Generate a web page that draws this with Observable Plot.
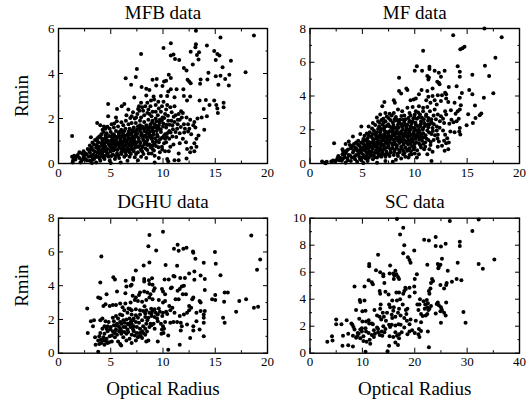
<!DOCTYPE html>
<html><head><meta charset="utf-8">
<script src="https://cdn.jsdelivr.net/npm/d3@7"></script>
<script src="https://cdn.jsdelivr.net/npm/@observablehq/plot@0.6"></script>
<style>
html,body{margin:0;padding:0;background:#fff;overflow:hidden}
#root{position:relative;width:530px;height:402px}
#root svg{position:absolute;background:transparent;max-width:none}
</style></head><body><div id="root"></div>
<script>
const serif = "'Liberation Serif','Times New Roman',serif";

const mfbPoints = [[18.7,5.69],[13.15,5.9],[15.5,5.6],[10.75,5.35],[10.05,5.13],[13.15,5.3],[13.1,5.17],[12.65,4.97],[13.45,4.95],[13.25,4.82],[14.2,5.24],[14.9,5],[15.2,4.87],[15.4,4.8],[15.05,4.6],[16.5,4.57],[15.7,4.28],[7.9,4.87],[10.75,4.8],[11,4.84],[11.15,4.65],[11.55,4.6],[13.4,4.62],[12.85,4.4],[17.9,4.06],[14.35,4.03],[12,4.24],[12.25,4.13],[7.5,4.2],[10.55,3.95],[10.75,3.8],[6.43,3.79],[7.4,3.84],[15.05,3.88],[15.5,3.9],[15.95,3.76],[16.35,3.94],[16.3,3.47],[15.3,3.5],[13.55,3.54],[13.6,3.73],[14.25,3.73],[12.35,3.72],[12.5,3.64],[12.65,3.57],[9,3.72],[9.4,3.76],[9.35,3.47],[6.95,3.5],[7.95,3.4],[8.4,3.32],[8.7,3.27],[10.1,3.64],[9.95,3.45],[10.3,3.68],[10.75,3.3],[10.5,3.2],[11.3,3.3],[11.95,3.3],[12.6,2.98],[12,3],[12.3,2.8],[11.1,2.95],[10.4,3],[9.8,3],[9.1,2.98],[8.4,3.02],[7.25,2.93],[6.3,2.65],[6.05,2.55],[5.6,2.42],[4.75,2.65],[4.75,2.1],[5.5,2.05],[6.5,2.15],[7,2.1],[7.3,2],[13.5,2.8],[14.1,2.82],[14.9,2.8],[15.1,2.6],[15.2,2.45],[15.25,2.25],[15.8,2.7],[15.8,2.5],[14.45,2.6],[13.9,2.42],[14.2,2.1],[13.7,2.05],[13.3,2],[13.95,1.5],[13.4,1.25],[13.2,1.1],[13,0.9],[13.2,0.75],[12.7,0.7],[12.6,0.5],[13,0.55],[12.3,0.65],[11.6,0.9],[11.9,1.1],[12.2,0.95],[12.7,1.3],[12.4,1.42],[12.1,1.55],[11.7,1.62],[11.4,1.75],[10.9,1.7],[11.35,1.55],[10.9,1.2],[10.6,1.1],[11,0.85],[10.3,0.95],[10.2,0.55],[9.7,0.5],[9.2,0.35],[9.6,0.25],[9.2,0.05],[10.4,0.2],[10.5,0.1],[11.1,0.15],[11.5,0.15],[11.5,0.45],[12.25,0.22],[10.55,0.55],[10.8,1.9],[11.2,2.15],[11.5,2.2],[11.9,2.25],[12.25,2.05],[12.6,1.95],[13,1.85],[12.9,1.7],[13.1,1.6],[11.1,2.55],[10.7,2.5],[10.05,2.75],[10.4,2.6],[9.9,2.55],[9.6,2.45],[9.3,2.6],[9,2.3],[8.8,2.55],[8.5,2.7],[8.6,2.4],[8.3,2.55],[8,2.5],[7.75,2.35],[7.7,2.55],[7.55,2.2],[8.2,2.15],[8.9,2.1],[9.5,2.15],[9.95,2.05],[10.2,2.2],[10.5,1.9],[11.8,2.05],[9.15,2.85],[8.85,2.8],[9.55,2.75],[9.3,2],[9.7,1.95],[9,1.9],[8.6,1.95],[8.2,1.85],[7.8,1.9],[7.4,1.8],[7,1.8],[6.7,1.75],[6.2,1.7],[5.7,1.65],[5.3,1.6],[4.9,1.55],[4.5,1.55],[4.3,1.4],[3.9,1.2],[3.1,1.17],[1.3,1.22],[3.7,1.8],[4,1.7],[4.6,1.35],[5,1.4],[5.5,1.45],[6,1.5],[6.4,1.55],[6.8,1.55],[7.2,1.6],[7.6,1.65],[8,1.65],[8.4,1.7],[8.8,1.75],[9.2,1.75],[9.6,1.7],[10,1.65],[10.3,1.6],[10.6,1.45],[10.2,1.3],[9.8,1.4],[9.4,1.45],[9,1.5],[8.6,1.5],[8.2,1.45],[7.8,1.45],[7.4,1.4],[7,1.35],[6.6,1.3],[6.2,1.3],[5.8,1.25],[5.4,1.2],[5,1.2],[4.6,1.15],[4.2,1],[3.8,0.95],[3.4,0.85],[3,0.8],[2.8,0.65],[2.4,0.55],[2,0.5],[1.5,0.35],[1.3,0.3],[1.4,0.15],[1.35,0.05],[1.7,0.3],[2,0.25],[2.2,0.12],[2.4,0.3],[2.7,0.4],[3,0.5],[3.3,0.6],[3.6,0.7],[3.9,0.75],[4.2,0.8],[4.5,0.95],[4.8,1],[5.1,1.05],[5.5,1.05],[5.9,1.1],[6.3,1.1],[6.7,1.15],[7.1,1.2],[7.5,1.2],[7.9,1.25],[8.3,1.25],[8.7,1.3],[9.1,1.3],[9.5,1.2],[9.9,1.15],[8.9,1.1],[8.5,1.05],[8.1,1.05],[7.7,1],[7.3,1],[6.9,0.95],[6.5,0.9],[6.1,0.9],[5.7,0.85],[5.3,0.85],[4.9,0.8],[4.5,0.75],[4.1,0.6],[3.7,0.5],[3.3,0.4],[2.9,0.3],[2.6,0.2],[3,0.12],[3.4,0.2],[3.8,0.3],[4.2,0.4],[4.6,0.5],[5,0.6],[5.4,0.65],[5.8,0.7],[6.2,0.7],[6.6,0.7],[7,0.75],[7.4,0.8],[7.8,0.8],[8.2,0.85],[8.7,0.85],[9.2,0.9],[9.6,0.95],[9,0.65],[8.5,0.6],[8,0.55],[7.6,0.5],[7.2,0.55],[6.8,0.5],[6.4,0.5],[6,0.5],[5.6,0.45],[5.2,0.4],[4.8,0.3],[4.4,0.2],[4,0.12],[3.6,0.05],[4.9,0.12],[5.4,0.2],[5.8,0.25],[6.3,0.3],[6.8,0.3],[7.3,0.28],[7.9,0.3],[8.4,0.25],[5,0.02],[5.95,0.05],[3.2,0.02],[2.1,0.05],[6.6,0.12],[7.6,0.15],[8.9,0.45],[9.9,0.75],[10.1,0.9],[10.7,0.75],[4.5,1.25],[3.5,1.05],[3.7,1],[4.1,1.3],[4.4,1.1],[4.7,0.65],[5.2,0.7],[5.5,0.9],[5.1,0.95],[5.3,1.3],[5.8,1.4],[6.1,1.2],[6.3,1.45],[5.9,0.95],[6.6,1.05],[6.9,1.1],[7.2,1.45],[7.5,1.5],[7.8,1.7],[8.1,1.6],[8.4,1.4],[8.7,1.6],[9,1.6],[9.3,1.6],[9.6,1.55],[8.1,1.25],[7.1,0.85],[6.8,0.8],[6.4,0.8],[6,0.65],[3.1,0.65],[3.2,0.3],[2.6,0.45],[3.6,0.35],[3.9,0.45],[4.3,0.55],[4.5,0.35],[4.1,0.9],[5.6,1.15],[5.2,1.1],[7.9,2.05],[8.5,2.25],[9.3,2.3],[9.8,2.3],[10.3,2.4],[8.1,2.35],[7.9,2.7],[8.7,2.2],[11.1,1.85],[11.6,1.95],[12.4,1.75],[12,1.75],[11.6,1.35],[11.2,1.4],[10.4,1.35],[10.2,1.1],[9.4,1],[9,0.8],[8.4,0.95]];
const mfbCore = [[3.25,0.93],[3.48,0.52],[3.72,1.12],[3.83,0.62],[4.03,0.48],[4.08,1.13],[4.27,0.68],[4.33,0.27],[4.38,0.88],[4.55,0.62],[4.62,1.02],[4.73,0.42],[4.78,0.87],[4.83,1.22],[4.97,0.53],[5.03,0.72],[5.07,0.33],[5.13,0.88],[5.18,1.28],[5.27,0.58],[5.32,0.98],[5.43,0.77],[5.47,0.32],[5.52,1.18],[5.62,0.6],[5.68,0.95],[5.72,0.38],[5.78,1.33],[5.83,0.78],[5.97,1.02],[6.03,0.42],[6.08,0.82],[6.13,1.38],[6.17,0.58],[6.27,0.98],[6.33,0.62],[6.42,1.22],[6.47,0.38],[6.53,1.02],[6.58,0.58],[6.63,0.88],[6.72,1.42],[6.77,0.62],[6.83,1.28],[6.92,0.42],[6.97,1.03],[7.03,1.48],[7.08,0.62],[7.17,0.93],[7.22,1.12],[7.33,0.7],[7.37,1.28],[7.42,0.42],[7.48,0.92],[7.53,1.33],[7.63,0.73],[7.68,1.12],[7.72,1.57],[7.83,0.92],[7.88,0.62],[7.93,1.33],[7.97,1.58],[8.03,0.73],[8.08,1.15],[8.13,0.42],[8.23,0.97],[8.28,1.53],[8.33,0.67],[8.38,1.18],[8.47,1.62],[8.53,0.82],[8.58,1.32],[8.63,0.45],[8.68,1.18],[8.78,1.42],[8.83,0.72],[8.93,1.22],[8.97,1.85],[9.03,0.97],[9.08,1.42],[9.13,0.58],[9.22,1.12],[9.28,1.68],[9.33,0.78],[9.38,1.88],[9.43,1.28],[9.53,1.58],[9.57,0.72],[9.68,1.82],[9.72,1.08],[9.78,1.52],[9.88,1.92],[9.93,0.62],[10.03,1.78],[10.08,1.22],[10.12,2.02],[10.33,1.72],[10.38,1.18],[10.47,2.12],[10.62,1.72],[10.73,1.38],[10.83,2.28],[10.95,1.52],[11.02,2.08],[11.27,1.18],[11.42,1.95],[11.73,2.32],[12.03,1.38],[12.52,1.55],[2.32,0.18],[2.52,0.38],[2.72,0.13],[2.93,0.58],[3.05,0.33],[3.18,0.72],[3.27,0.17],[3.53,0.28],[3.67,0.82],[3.93,0.22],[4.13,0.33],[1.45,0.25],[1.62,0.18],[1.85,0.38],[2.25,0.45],[4.22,1.5],[4.68,1.63],[5.08,1.75],[5.58,1.88],[6.02,1.83],[6.45,1.9],[6.87,2.02],[7.13,2.28],[7.62,2.42],[7.43,2.05],[6.68,2.4],[5.33,1.78],[4.35,1.65]];

const mfPoints = [[16.65,8],[13.67,7.6],[18.3,7.48],[10.8,6.68],[14.75,6.92],[14.55,6.83],[14.35,6.77],[17.7,6.27],[16.7,5.8],[14.1,5.77],[17.1,5.18],[15.5,5.26],[14.3,5.44],[14.3,5.14],[10.2,5.77],[10,5.5],[10.7,5.5],[11.4,5.73],[11.4,5.6],[11.9,5.5],[12.3,5.38],[12.85,5.5],[12.5,5.14],[8.5,5.08],[11.2,5.18],[11.35,5.1],[11.3,4.98],[12.15,4.84],[12.3,4.78],[12.37,4.7],[13.25,4.54],[14,4.58],[8.5,4.3],[8.7,4.15],[9.2,4.45],[9.3,4.35],[10.65,4.35],[11.2,4.3],[11.7,4.45],[16.6,3.9],[17.5,4.17],[15.2,4.35],[15.5,4.1],[14.5,4.18],[15.75,3.43],[16.35,2.96],[16.2,2.86],[15.8,2.7],[15.55,2.4],[15.1,2.92],[14.95,2.26],[12.9,4.2],[13,4.1],[12.2,4.05],[12.6,4.05],[11.7,4],[11.3,3.95],[10.4,4.1],[9.9,3.8],[10.1,3.85],[9.6,3.75],[8,3.75],[8.1,3.6],[7.1,3.65],[6.9,3.4],[11.1,3.75],[11.5,3.6],[11.9,3.75],[12.1,3.5],[12.5,3.7],[13,3.85],[13.2,3.65],[13.8,3.6],[14.3,3.9],[14.4,3.45],[14.3,3.2],[14.1,3.1],[13.9,2.95],[13.45,3.15],[12.9,3.1],[13,2.9],[13.5,2.6],[14.2,2.65],[14,2.5],[13.7,2.45],[14.3,2.1],[14.25,1.9],[14.35,1.72],[13.8,1.85],[13.4,1.9],[13.1,1.5],[13,1.2],[13.25,1.25],[13.2,0.85],[12.85,0.75],[12.6,1.05],[12.2,1],[12.3,1.3],[12.8,1.35],[11.7,0.7],[11.2,0.55],[11.6,0.15],[10.9,0.85],[10.4,0.55],[10,0.6],[9.7,0.55],[9.4,0.35],[9.1,0.4],[8.9,0.55],[9.5,0.5],[11.5,1.1],[11,1.25],[11.8,1.4],[12.2,1.7],[12.7,1.95],[12.1,2.2],[12.4,2.5],[12.8,2.4],[11.6,2.45],[11.2,2.3],[10.8,2.1],[11.3,2.7],[11.8,2.85],[11.45,3.1],[11.9,3.2],[11.2,3.35],[10.8,3.1],[10.4,3.4],[9.8,3.35],[10.5,2.9],[10,2.9],[9.5,3],[9,2.85],[8.8,3.1],[8.4,3.2],[8,3],[7.6,2.95],[7.2,3],[6.7,2.9],[6.5,2.5],[6,2.4],[5.6,2.2],[4.9,2.2],[4.1,1.6],[2.3,1.2],[3.4,1.15],[3.1,0.85],[3.7,1.3],[4.4,1.25],[4.8,1.75],[5.3,1.35],[5.7,1.85],[6.1,1.95],[6.5,2.05],[6.9,2.3],[7.2,2.5],[7.5,2.7],[7.9,2.45],[8.2,2.75],[8.6,2.6],[9,2.45],[9.4,2.7],[9.8,2.5],[10.2,2.65],[10.6,2.5],[8,2.1],[8.4,2.3],[8.8,2.2],[9.2,2.15],[9.6,2.2],[10,2.1],[10.4,2],[10.8,1.8],[11.2,1.95],[11.6,1.75],[9.9,1.8],[9.5,1.9],[9.1,1.85],[8.7,1.9],[8.3,1.95],[7.9,1.8],[7.5,1.85],[7.1,1.95],[6.7,1.7],[6.3,1.65],[5.9,1.55],[5.5,1.5],[5.1,1.45],[4.7,1.05],[4.3,0.95],[3.9,0.9],[3.5,0.75],[3.1,0.55],[2.7,0.45],[2.5,0.2],[2.2,0.18],[1.6,0.1],[1.4,0.05],[1.15,0.12],[1.5,0.02],[2.8,0.2],[3.3,0.35],[3.7,0.5],[4.1,0.65],[4.5,0.75],[4.9,0.95],[5.3,1.05],[5.7,1.15],[6.1,1.3],[6.5,1.4],[6.9,1.5],[7.3,1.6],[7.7,1.6],[8.1,1.65],[8.5,1.6],[8.9,1.6],[9.3,1.55],[9.7,1.5],[10.1,1.5],[10.5,1.6],[10.9,1.55],[11.3,1.4],[10.4,1.2],[10,1.15],[9.6,1.2],[9.2,1.25],[8.8,1.3],[8.4,1.35],[8,1.4],[7.6,1.35],[7.2,1.3],[6.8,1.2],[6.4,1.1],[6,1],[5.6,0.9],[5.2,0.8],[4.8,0.7],[4.4,0.5],[4,0.35],[3.6,0.2],[3.4,0.05],[3.9,0.15],[4.3,0.25],[4.7,0.4],[5.1,0.5],[5.5,0.6],[5.9,0.7],[6.3,0.8],[6.7,0.9],[7.1,1],[7.5,1.05],[7.9,1.1],[8.3,1.05],[8.7,1],[9.1,0.95],[9.5,0.9],[9.9,0.85],[8.9,0.75],[8.5,0.8],[8.1,0.8],[7.7,0.8],[7.3,0.7],[6.9,0.65],[6.5,0.6],[6.1,0.5],[5.7,0.4],[5.3,0.3],[4.9,0.2],[4.5,0.1],[5.5,0.15],[6,0.25],[6.4,0.35],[6.8,0.4],[7.2,0.4],[7.6,0.45],[8,0.5],[8.4,0.45],[8.7,0.3],[7.2,0.15],[6.4,0.05],[5.1,0.03],[7.9,0.1],[8.2,0.22],[9.3,0.75],[10.6,0.95],[11,1],[11.4,0.85],[10.2,0.35],[6.2,1.15],[6.6,1.25],[7,1.4],[7.4,1.45],[7.8,1.5],[8.2,1.5],[8.6,1.45],[9,1.4],[9.4,1.4],[9.8,1.3],[7.4,1.15],[7,0.85],[6.6,0.75],[6.2,0.65],[5.8,0.55],[5.4,0.45],[5,0.35],[5.6,1.05],[5.2,0.95],[4.8,0.85],[5.9,1.25],[5.5,1.2],[5.1,1.15],[6.3,1.5],[6.7,1.55],[7.1,1.75],[7.5,1.7],[7.9,1.95],[8.3,1.8],[8.7,1.75],[9.1,1.7],[9.5,1.65],[9.9,1.65],[10.3,1.8],[10.7,1.35],[8.5,2.45],[8.9,2.6],[9.3,2.3],[9.7,2.35],[10.1,2.3],[10.5,2.2],[10.9,2.4],[11.3,2.15],[11.7,2.1],[12.1,1.95],[7.6,2.2],[7.2,2.2],[6.8,2.05],[6.4,1.85],[6,1.75],[5.6,1.65],[5.2,1.65],[4.6,1.35],[4.2,1.15],[3.8,1.1],[8.2,2.55],[7.8,2.85],[7,2.65],[6.6,2.2],[9.6,2.85],[10.1,3.1],[10.8,3.3],[11.1,2.9],[12.2,2.9],[12.5,2.8],[12.7,2.65],[13.3,2.35],[9.3,3.3],[12.9,1.7]];
const mfCore = [[3.63,0.83],[3.82,0.47],[4.02,1.03],[4.17,0.78],[4.27,0.42],[4.42,0.87],[4.58,1.12],[4.63,0.58],[4.77,0.27],[4.87,1.23],[4.93,0.62],[5.03,0.82],[5.07,1.33],[5.18,0.43],[5.23,1.07],[5.37,0.68],[5.43,1.42],[5.47,0.88],[5.57,0.33],[5.63,1.27],[5.68,0.72],[5.78,1.02],[5.83,1.62],[5.87,0.48],[5.97,0.88],[6.03,1.42],[6.07,1.13],[6.17,0.37],[6.23,1.02],[6.27,1.78],[6.37,0.67],[6.43,1.27],[6.47,0.93],[6.53,1.62],[6.58,0.48],[6.63,1.18],[6.73,1.88],[6.78,1.03],[6.83,0.57],[6.87,1.38],[6.93,0.78],[6.98,1.67],[7.03,1.12],[7.07,2.12],[7.13,0.52],[7.18,1.52],[7.23,0.92],[7.28,1.87],[7.33,1.22],[7.38,0.57],[7.43,1.62],[7.47,2.32],[7.53,0.93],[7.57,1.28],[7.63,1.92],[7.68,0.63],[7.73,1.47],[7.77,2.13],[7.83,1.18],[7.88,0.92],[7.93,1.67],[7.97,2.28],[8.03,0.67],[8.07,1.28],[8.13,1.82],[8.17,1.13],[8.23,2.12],[8.27,0.93],[8.33,1.52],[8.37,0.58],[8.43,1.78],[8.47,2.12],[8.53,1.22],[8.57,0.68],[8.63,1.82],[8.67,1.38],[8.73,2.32],[8.77,0.87],[8.83,1.52],[8.87,2.02],[8.93,1.13],[8.97,1.73],[9.03,0.62],[9.07,2.28],[9.13,1.32],[9.17,1.97],[9.23,1.62],[9.27,0.82],[9.33,2.02],[9.37,1.12],[9.43,1.78],[9.47,2.48],[9.53,1.32],[9.57,2.02],[9.63,0.72],[9.67,1.72],[9.73,1.03],[9.77,2.12],[9.83,1.42],[9.87,2.68],[9.93,1.93],[9.97,0.97],[10.03,1.67],[10.07,2.42],[10.13,1.28],[10.17,1.97],[10.23,0.78],[10.27,2.22],[10.33,1.62],[10.37,2.72],[10.43,1.42],[10.47,1.87],[10.53,1.08],[10.57,2.32],[10.63,1.72],[10.67,2.72],[10.73,1.52],[10.77,2.02],[10.83,1.17],[10.87,2.62],[10.97,2.22],[11.03,1.68],[11.07,2.82],[11.13,1.47],[11.27,2.53],[11.37,1.83],[11.43,2.33],[11.53,1.28],[11.58,2.62],[11.73,1.92],[11.82,2.32],[11.93,1.68],[12.02,2.62],[12.17,1.48],[12.37,2.12],[2.93,0.33],[3.03,0.17],[3.17,0.72],[3.27,0.48],[3.43,0.62],[3.57,0.33],[2.63,0.32],[2.38,0.14],[2.03,0.12],[3.12,0.27],[5.42,1.78],[5.92,2.08],[6.23,2.28],[6.63,2.42],[7.03,2.42],[7.37,2.23],[7.67,2.58],[8.07,2.62],[8.37,2.58],[8.73,2.82],[9.13,2.62],[9.53,2.52],[9.97,2.72],[10.33,3.02],[6.38,2.72],[7.33,2.78],[6.83,2.58]];

const dghuPoints = [[10,7.2],[8.7,7],[18.45,6.98],[8.6,6.34],[9.35,6.09],[4.1,5.73],[11.4,6.42],[11.05,6.19],[11.5,6.07],[11.95,6.19],[12.25,6.25],[12.87,6.03],[12.9,5.95],[14.97,5.99],[13.1,5.59],[19.3,5.55],[13.9,5.36],[8.7,5.37],[8.15,5.2],[10.25,5.22],[11.35,5.18],[15.05,5.3],[19,4.94],[7.4,4.9],[15.5,4.62],[13,4.84],[12.5,4.72],[11,4.58],[11.1,4.55],[4,4.19],[5.25,4.5],[5.4,4.37],[6.43,4.3],[7.15,4.45],[7.15,4.35],[8.2,4.4],[8.2,4.25],[8.65,4.33],[8.95,4.44],[10.15,4.37],[10.55,4.37],[11.65,4.45],[12.1,4.45],[13,4.35],[13.6,4.6],[14,4.4],[14,3.75],[12,4],[11.8,3.95],[11.6,3.8],[11.4,3.7],[10.75,3.85],[10.85,3.9],[9,4.05],[8.7,4.1],[9.2,3.85],[9.1,3.7],[6.4,3.55],[5.6,3.65],[4.6,3.5],[3.8,3.3],[7,4.05],[6.9,4],[6.5,3.95],[7.8,3.6],[8.2,3.65],[8.5,3.6],[8.8,3.5],[7.4,3.3],[7.1,3.4],[7.7,3.45],[9.9,3.8],[10,3.65],[10.2,3.5],[11.9,3.5],[12.2,3.5],[13.5,3.1],[13.6,3],[12.9,3.3],[12.8,3.2],[11.5,3.2],[11.2,3.2],[9.6,3.15],[10,3],[10.2,3.1],[9,3.2],[8.7,3.3],[8.4,3.15],[8,3.05],[7.6,3.1],[7.3,3.15],[6.9,3],[6.4,2.95],[5.9,2.95],[5.5,2.85],[5.2,2.85],[4.9,2.8],[4.5,2.9],[4.3,2.8],[2.75,2.65],[4,3.25],[4,1.95],[4.2,2.05],[3.1,1.9],[3.4,1.95],[3.3,1.6],[2.8,1.2],[3.5,0.95],[3.8,0.08],[3.55,0.5],[10.5,0.2],[11.6,0.5],[10.5,1.05],[9.5,0.7],[8.6,0.75],[8.4,0.7],[12.6,0.9],[13.9,1],[13.5,1.4],[12.9,1.35],[12.9,1.6],[13.2,1.9],[13.9,1.8],[13.9,2.1],[13.9,2.3],[14,2.5],[13.6,2.5],[13.2,2.4],[12.7,2.7],[12.5,2.55],[12.3,2.4],[12,2.3],[11.6,2.2],[11.7,1.8],[11.8,1.6],[11.7,1.35],[12.3,1.7],[12.5,2.8],[11,1.85],[10.7,1.8],[10.2,1.85],[10,1.6],[9.9,1.4],[10.1,1.45],[10.05,1.2],[9.85,1.15],[10.3,2.45],[10.6,2.8],[10.9,2.7],[11.1,2.4],[15,3.45],[15,3.15],[14.7,3.2],[15.9,3.6],[16.2,3.6],[15.85,3.05],[15.75,2.1],[15.9,1.8],[17.3,3.1],[17.95,3.2],[17,2.45],[18.7,2.7],[19.1,2.75],[9.7,2.45],[9.5,2.3],[9.2,2.6],[9,2.5],[8.7,2.4],[8.4,2.55],[8.1,2.5],[7.8,2.3],[7.4,2.25],[7,2.3],[6.6,2.4],[6.3,2.55],[5.9,2.3],[5.5,2.2],[5.2,2.1],[4.8,1.85],[4.4,1.6],[4.2,1.45],[4,1.2],[3.9,1],[3.8,0.75],[4.1,0.6],[4.4,0.5],[4.7,0.6],[4.6,0.85],[4.3,0.95],[4.05,0.8],[4.4,1.15],[4.7,1.3],[5,1.55],[5.3,1.65],[5.6,1.75],[5.9,1.85],[6.2,1.95],[6.5,2],[6.8,2.05],[7.1,1.95],[7.4,1.85],[7.7,1.8],[8,1.95],[8.3,2.15],[8.6,2.1],[8.9,2.2],[9.2,2.15],[9.5,1.9],[9.1,1.75],[8.7,1.55],[8.3,1.45],[8,1.3],[8.3,1.1],[8,0.9],[7.7,1],[7.5,1.2],[7.2,1.3],[7,1.1],[6.8,0.85],[7,0.6],[7.4,0.75],[6.5,0.75],[6.2,0.95],[6,1.15],[5.8,1.3],[5.5,1.4],[5.2,1.3],[5.1,1.05],[5.4,0.95],[5.1,0.7],[5.7,0.7],[5.9,0.55],[6,0.45],[6.3,1.25],[6.6,1.4],[6.9,1.55],[7.2,1.6],[7.5,1.55],[7.8,1.45],[8.1,1.6],[8.4,1.75],[5.6,1.1],[5.9,1.45],[6.4,1.55],[6.7,1.7],[7,1.75],[7.3,1.05],[7.6,0.95],[7.8,1.2],[8.1,1.2],[6.5,1.15],[6.2,1.55],[6,1.75],[5.4,1.25],[4.9,1],[4.6,1.45],[4.3,0.75],[3.9,0.55],[7.6,2.1],[7.2,2.05],[6.9,1.85],[6.6,1.75],[6.3,1.8],[7.8,2.55],[7.4,2.6],[7,2.55],[6.7,2.65],[6.1,2.25],[5.7,2.05],[5.3,1.9],[4.5,1.9],[4.7,1.6],[8.3,2.35],[8.9,2.35],[9.3,2.4],[9.6,2.65],[10,2.4],[9.8,1.75],[8.8,1.75],[8.5,1.95],[9.2,1.45],[8.9,1.65],[6.13,2.72],[6.83,2.62],[8.23,2.78],[8.87,2.63],[9.43,2.05],[9.93,2.2],[10.4,2.32],[10.7,2.55],[11.35,1.85],[5.33,1.2],[6.03,1.32],[5.47,1.62],[7.13,1.42],[7.87,1.02],[8.47,1.28],[6.67,1.25],[4.53,0.72],[4.93,1.42],[5.78,1.58],[4.85,0.65]];

const scPoints = [[16.6,9.95],[17.8,9.3],[17.2,8.8],[26.7,9.8],[32.2,9.9],[31,9.05],[24,8.6],[21.8,8.4],[22.7,8.35],[25.9,8.1],[24,7.95],[25,7.9],[28.6,8.25],[28.6,7.95],[18,8],[17.8,7.4],[19.9,7.6],[13,7.3],[18.7,7.1],[19,6.9],[19.2,6.7],[28.2,6.7],[35.2,6.95],[32.2,6.6],[33,6.25],[25.2,7],[24.4,6.6],[24.9,6.55],[24.6,6.4],[24.5,6.3],[22.4,6.55],[11.3,6.6],[11.3,6.45],[15.3,6.5],[12.6,6.15],[13.4,6],[14,5.85],[14,5.7],[26.3,6.1],[16.3,6.1],[15.2,5.9],[15.9,5.9],[16.5,5.85],[16.1,5.75],[16,5.5],[16.8,5.65],[17,5.5],[20.4,5.85],[20,5.5],[11.2,5.4],[11.8,5.25],[12,5.1],[8.5,4.95],[10.4,4.95],[14.2,5.2],[23.3,5.5],[23.5,5.35],[23.1,5.2],[24.9,5.05],[25.6,4.8],[26,5.05],[26.1,5.2],[27.1,5.3],[28,5.5],[28.9,5.4],[23,4.8],[22.7,4.6],[22.8,4.4],[18.2,4.85],[18.3,4.75],[19,4.85],[19.9,4.95],[13.3,4.6],[13.4,4.4],[14.4,4.55],[15,4.35],[16.5,4.5],[17,4.5],[17.8,4.4],[18,4.6],[19,4.2],[20,4.5],[21,4],[21.7,3.85],[22.3,3.95],[22.5,3.7],[22,3.6],[22.4,3.4],[22.8,3.3],[22.4,2.9],[21.5,2.75],[20.7,3.2],[20.5,3.6],[24.4,3.75],[24.6,3.55],[25,3.4],[25.2,3.2],[25.6,3],[25.9,2.8],[26,3.75],[24,2.95],[25,2.25],[29.3,3.05],[29.7,2.25],[22.7,0.45],[22.5,1.6],[21.2,1.65],[20.8,1.8],[20.7,1.4],[20.9,1.2],[20,1.5],[19,1.6],[18.6,1.4],[17.5,1.55],[17,1.1],[16.8,0.6],[16.3,0.8],[15.1,0.55],[14.8,0.15],[10.6,0.1],[11.5,0.7],[6.2,0.55],[7.3,0.58],[8.2,0.5],[3.3,0.85],[4.2,1.25],[4.3,0.95],[5,2.5],[5,2.15],[6,2.15],[7,2.45],[6.3,1.3],[7.3,1.45],[8.2,1.3],[7.9,2.2],[8.1,2.1],[8.3,1.95],[8.5,1.75],[8.8,3.2],[9.5,3.95],[9.6,3.8],[10.4,3.9],[10,3.1],[10.6,3.15],[9.4,2.55],[10,2.35],[10.7,2.35],[11.2,2.45],[11.8,2.2],[12.3,3.2],[12.8,2.8],[13.4,3.3],[13.5,3.6],[13.9,3],[13.3,2.7],[13.6,2.5],[14.1,2.7],[14.5,2.4],[15.1,2.1],[15.3,1.95],[15.7,3.9],[15.1,3.6],[15.3,3.4],[15.9,3.15],[16,3.4],[16.6,3.9],[17.2,4],[17.7,3.6],[17,3.3],[16.8,3],[16.3,2.7],[15.6,2.85],[15.7,2.6],[17.3,2.8],[18.3,3.2],[18.4,2.9],[18,2.6],[18.5,2.4],[19.2,2.5],[19,2.15],[20.2,2.4],[21.2,2.3],[18,1.9],[17.3,2.1],[16.3,2.05],[15.9,1.2],[15.2,1.25],[16.6,1.3],[17,1.4],[16.3,1.55],[14.2,1.55],[13.7,1.6],[13.3,1.35],[13,1.55],[12.4,1.45],[12.2,1.7],[11.8,1.35],[11.2,1.5],[10.7,1.6],[10.2,1.25],[9.9,1.6],[9.3,1.45],[9,1.25],[9.6,1.1],[10.2,0.9],[10.8,0.85],[11.4,1],[12.2,1.2],[13,1.8],[13.8,1.3],[14,2],[12.8,1.9],[12,2.15],[11.3,2.2],[10.6,1.85],[9.9,1.85],[9.6,1.75],[8.8,1.15],[9.1,1.5],[15.6,2.1],[14.7,3],[14.4,1.8],[16.9,2.15],[19.5,1.7],[18.6,3.3],[21.2,2.9],[23.1,3.5],[22.6,3.2],[20.9,3.6],[21.9,3.3],[22.1,2.8],[24.2,3.65],[24.9,3.1]];

const panels = [
  {name:"MFB data", pts:mfbPoints.concat(mfbCore), yTop:6, xTop:20, col:0, row:0},
  {name:"MF data", pts:mfPoints.concat(mfCore), yTop:8, xTop:20, col:1, row:0},
  {name:"DGHU data", pts:dghuPoints, yTop:8, xTop:20, col:0, row:1},
  {name:"SC data", pts:scPoints, yTop:10, xTop:40, col:1, row:1}
];
const xMajor20 = [0,5,10,15,20], xMinor20 = [2.5,7.5,12.5,17.5];
const xMajor40 = [0,10,20,30,40], xMinor40 = [5,15,25,35];
const yMajors = {6:[0,2,4,6], 8:[0,2,4,6,8], 10:[0,2,4,6,8,10]};
const yMinors = {6:[1,3,5], 8:[1,3,5,7], 10:[1,3,5,7,9]};

const root = document.getElementById("root");
for (const p of panels) {
  const w = p.col === 0 ? 285 : 245;
  const h = p.row === 0 ? 190 : 212;
  const xMaj = p.xTop === 40 ? xMajor40 : xMajor20;
  const xMin = p.xTop === 40 ? xMinor40 : xMinor20;
  const yMaj = yMajors[p.yTop], yMin = yMinors[p.yTop];
  const txt = {fontFamily:serif, fontSize:13, fill:"#000"};
  const bare = {fill:"none", label:null, stroke:"#000"};
  const marks = [
    Plot.axisX(xMaj, {anchor:"bottom", tickSize:-5, tickPadding:9, label:null, stroke:"#000", ...txt}),
    Plot.axisX(xMin, {anchor:"bottom", tickSize:-2.5, ...bare}),
    Plot.axisX(xMaj, {anchor:"top", tickSize:-5, ...bare}),
    Plot.axisX(xMin, {anchor:"top", tickSize:-2.5, ...bare}),
    Plot.axisY(yMaj, {anchor:"left", tickSize:-5, tickPadding:9, label:null, stroke:"#000", ...txt}),
    Plot.axisY(yMin, {anchor:"left", tickSize:-2.5, ...bare}),
    Plot.axisY(yMaj, {anchor:"right", tickSize:-5, ...bare}),
    Plot.axisY(yMin, {anchor:"right", tickSize:-2.5, ...bare}),
    Plot.frame({stroke:"#000", strokeWidth:1.4}),
    Plot.dot(p.pts, {x:d=>d[0], y:d=>d[1], r:2, fill:"#000", stroke:"none"}),
    Plot.text([p.name], {frameAnchor:"top", lineAnchor:"middle", dy:-16, text:d=>d, fontFamily:serif, fontSize:19, fill:"#000"})
  ];
  if (p.col === 0) marks.push(Plot.text(["Rmin"], {frameAnchor:"left", textAnchor:"middle", dx:-37, text:d=>d, rotate:-90, fontFamily:serif, fontSize:19, fill:"#000"}));
  if (p.row === 1) marks.push(Plot.text(["Optical Radius"], {frameAnchor:"bottom", lineAnchor:"middle", dy:36, text:d=>d, fontFamily:serif, fontSize:19, fill:"#000"}));
  const svg = Plot.plot({
    width:w, height:h,
    marginLeft: p.col === 0 ? 58 : 24.5,
    marginRight: p.col === 0 ? 18 : 11,
    marginTop: p.row === 0 ? 28 : 27.7,
    marginBottom: p.row === 0 ? 27 : 49.3,
    x:{domain:[0,p.xTop]},
    y:{domain:[0,p.yTop]},
    marks
  });
  svg.style.left = (p.col === 0 ? 0 : 285) + "px";
  svg.style.top = (p.row === 0 ? 0 : 190) + "px";
  root.appendChild(svg);
}
</script></body></html>
